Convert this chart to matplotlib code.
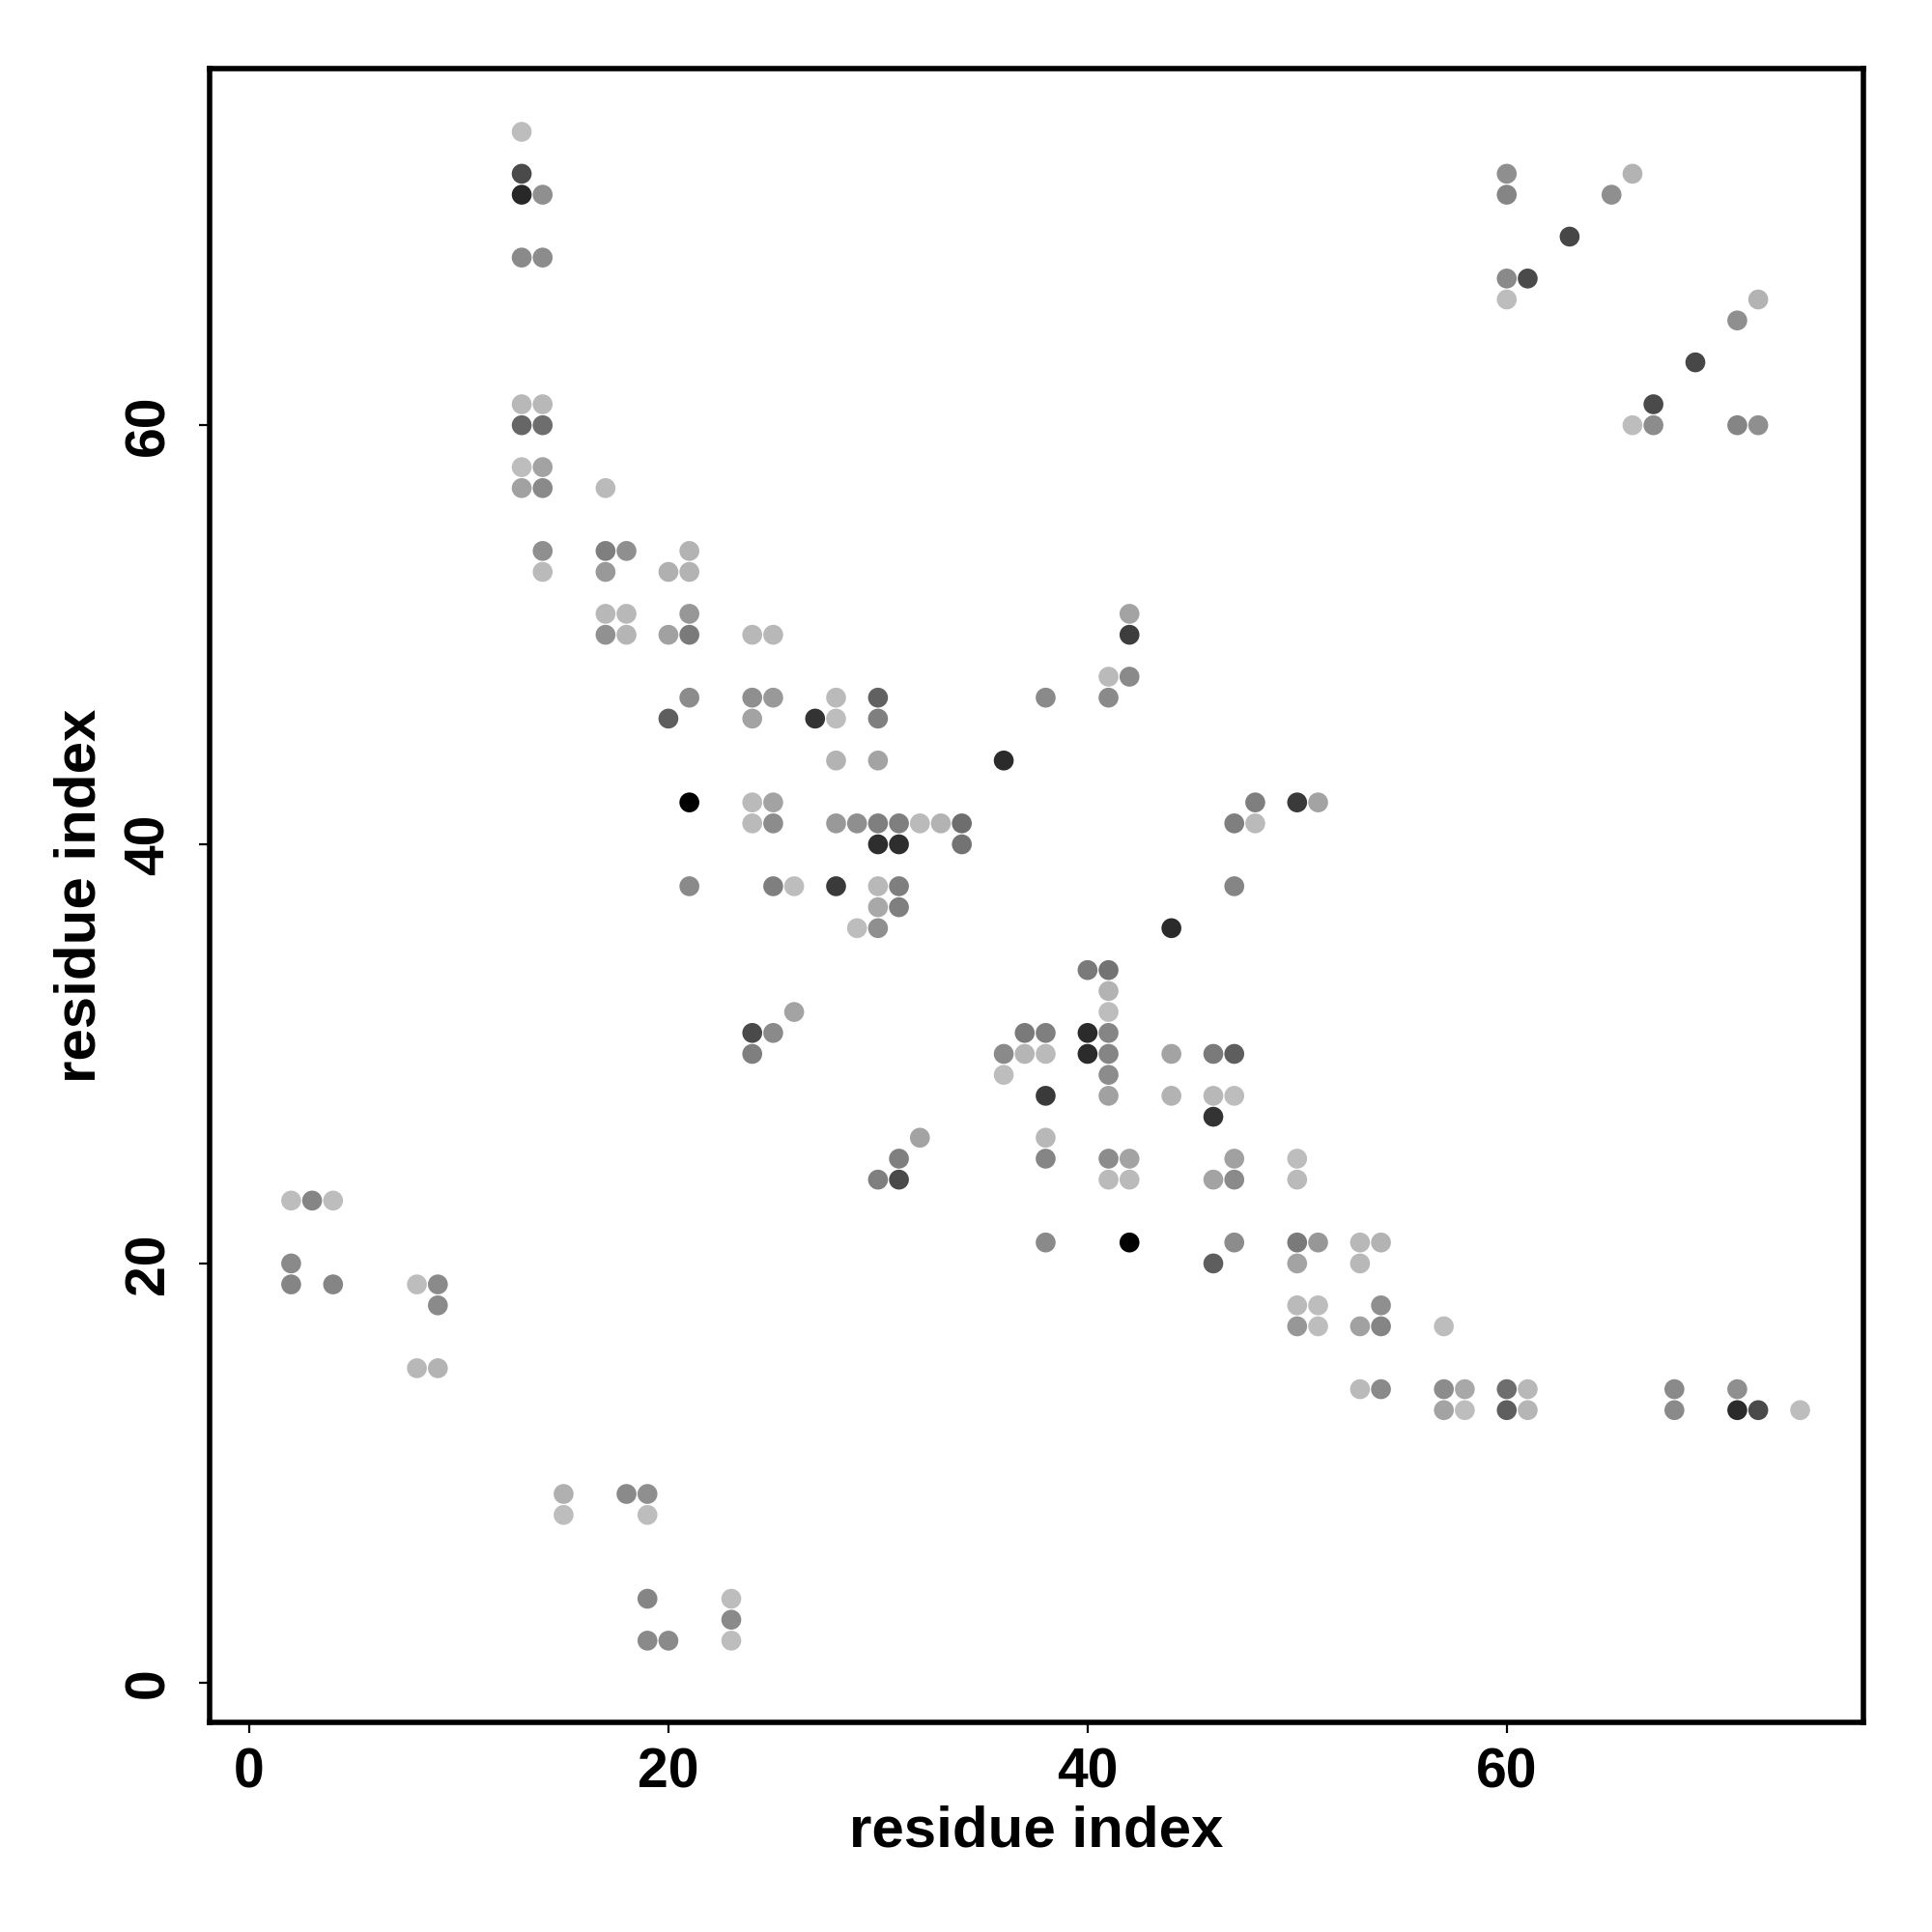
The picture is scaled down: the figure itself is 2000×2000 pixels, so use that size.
import numpy as np
import matplotlib.pyplot as plt
import matplotlib

matplotlib.rcParams["font.family"] = ["Liberation Sans", "DejaVu Sans"]
matplotlib.rcParams["font.weight"] = "bold"

# contact map: residue pairs (i, j) and contact strength (0 = white, 1 = black)
res_i = [13, 13, 13, 14, 13, 14, 13, 14, 13, 14, 13, 14, 13, 14, 17, 14, 14, 17, 18, 17,
         21, 20, 21, 17, 18, 21, 17, 18, 20, 21, 24, 25, 21, 20, 24, 25, 24, 21, 24, 25,
         24, 25, 21, 25, 26, 27, 28, 28, 28, 30, 30, 30, 28, 29, 30, 31, 32, 33, 34, 30,
         31, 34, 28, 30, 31, 30, 31, 29, 30, 24, 25, 26, 24, 30, 31, 31, 32, 36, 38, 41,
         41, 42, 42, 42, 44, 47, 48, 48, 47, 50, 51, 36, 37, 38, 37, 38, 36, 38, 38, 38,
         38, 40, 41, 41, 41, 40, 41, 40, 41, 41, 41, 41, 42, 41, 42, 42, 44, 44, 46, 47,
         46, 47, 46, 47, 46, 47, 46, 47, 50, 50, 50, 51, 50, 50, 51, 50, 51, 53, 54, 53,
         54, 53, 54, 53, 54, 57, 57, 58, 57, 58, 60, 61, 60, 61, 68, 68, 71, 71, 72, 74,
         60, 60, 65, 66, 63, 60, 61, 60, 72, 71, 69, 67, 66, 67, 71, 72,
         2, 3, 4, 2, 2, 4, 8, 9, 9, 8, 9, 15, 15, 18, 19, 19, 19, 19, 20, 23, 23, 23]
res_j = [74, 72, 71, 71, 68, 68, 61, 61, 60, 60, 58, 58, 57, 57, 57, 54, 53, 54, 54, 53,
         54, 53, 53, 51, 51, 51, 50, 50, 50, 50, 50, 50, 47, 46, 47, 47, 46, 42, 42, 42,
         41, 41, 38, 38, 38, 46, 47, 46, 44, 47, 46, 44, 41, 41, 41, 41, 41, 41, 41, 40,
         40, 40, 38, 38, 38, 37, 37, 36, 36, 31, 31, 32, 30, 24, 25, 24, 26, 44, 47, 48,
         47, 51, 50, 48, 36, 41, 42, 41, 38, 42, 42, 30, 31, 31, 30, 30, 29, 28, 26, 25,
         21, 34, 34, 33, 32, 31, 31, 30, 30, 29, 28, 25, 25, 24, 24, 21, 30, 28, 30, 30,
         28, 28, 27, 25, 24, 24, 20, 21, 25, 24, 21, 21, 20, 18, 18, 17, 17, 21, 21, 20,
         18, 17, 17, 14, 14, 17, 14, 14, 13, 13, 14, 14, 13, 13, 14, 13, 14, 13, 13, 13,
         72, 71, 71, 72, 69, 67, 67, 66, 66, 65, 63, 61, 60, 60, 60, 60,
         23, 23, 23, 20, 19, 19, 19, 19, 18, 15, 15, 9, 8, 9, 9, 8, 4, 2, 2, 4, 3, 2]
strength = [0.26, 0.71, 0.84, 0.44, 0.46, 0.45, 0.28, 0.28, 0.60, 0.57, 0.26, 0.36, 0.37, 0.46, 0.27, 0.44, 0.27, 0.50, 0.44, 0.40,
            0.30, 0.31, 0.30, 0.28, 0.28, 0.41, 0.43, 0.29, 0.37, 0.52, 0.28, 0.28, 0.45, 0.63, 0.44, 0.40, 0.36, 1.00, 0.27, 0.36,
            0.27, 0.45, 0.46, 0.50, 0.26, 0.80, 0.27, 0.26, 0.30, 0.62, 0.50, 0.36, 0.40, 0.44, 0.50, 0.50, 0.27, 0.30, 0.57, 0.82,
            0.82, 0.55, 0.77, 0.28, 0.50, 0.34, 0.50, 0.26, 0.44, 0.71, 0.46, 0.36, 0.50, 0.50, 0.50, 0.71, 0.36, 0.83, 0.46, 0.27,
            0.46, 0.36, 0.76, 0.46, 0.83, 0.50, 0.50, 0.27, 0.48, 0.77, 0.36, 0.46, 0.52, 0.50, 0.29, 0.27, 0.26, 0.77, 0.28, 0.48,
            0.46, 0.52, 0.55, 0.30, 0.26, 0.83, 0.48, 0.83, 0.48, 0.45, 0.37, 0.45, 0.36, 0.27, 0.27, 1.00, 0.36, 0.30, 0.52, 0.63,
            0.28, 0.26, 0.80, 0.37, 0.36, 0.46, 0.63, 0.45, 0.26, 0.27, 0.52, 0.41, 0.36, 0.27, 0.26, 0.41, 0.26, 0.28, 0.30, 0.28,
            0.44, 0.37, 0.48, 0.27, 0.46, 0.26, 0.45, 0.34, 0.36, 0.26, 0.57, 0.28, 0.63, 0.29, 0.46, 0.46, 0.44, 0.83, 0.71, 0.26,
            0.44, 0.48, 0.44, 0.30, 0.72, 0.46, 0.71, 0.26, 0.30, 0.44, 0.72, 0.71, 0.26, 0.45, 0.48, 0.44,
            0.26, 0.48, 0.26, 0.46, 0.48, 0.48, 0.26, 0.46, 0.46, 0.28, 0.30, 0.31, 0.26, 0.46, 0.44, 0.26, 0.48, 0.46, 0.46, 0.26, 0.46, 0.26]

ticks = [0, 20, 40, 60]

fig = plt.figure(figsize=(10, 10), dpi=200)
ax = fig.add_axes([0.1084, 0.1085, 0.8559, 0.8558])

ax.scatter(res_i, res_j, c=strength, cmap='gray_r', vmin=0, vmax=1, s=55, linewidths=0)

ax.set_xlim(-1.9, 77.0)
ax.set_ylim(-1.9, 77.0)
ax.set_xticks(ticks)
ax.set_yticks(ticks)
ax.tick_params(axis='both', length=4, width=0.8, labelsize=20.5)
ax.tick_params(axis='x', pad=5.3)
ax.tick_params(axis='y', pad=8.7)
for lab in ax.get_yticklabels():
    lab.set_rotation(90)
    lab.set_va('center')
for sp in ax.spines.values():
    sp.set_linewidth(2.0)

ax.set_xlabel('residue index', fontsize=21.6, fontweight='bold', labelpad=2)
ax.set_ylabel('residue index', fontsize=21.6, fontweight='bold', labelpad=6)

fig.savefig('out.png', dpi=200, facecolor='white')
